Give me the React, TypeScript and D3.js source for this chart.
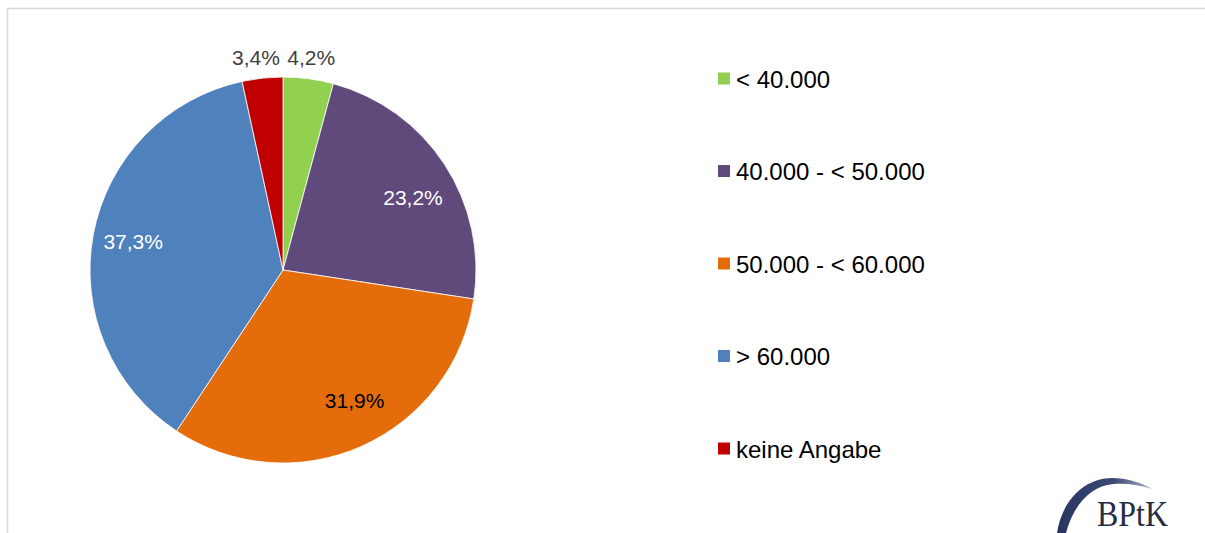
import React from "react";
import * as d3 from "d3";

const categories = ["< 40.000", "40.000 - < 50.000", "50.000 - < 60.000", "> 60.000", "keine Angabe"];
const values = [4.2, 23.2, 31.9, 37.3, 3.4];
const valueLabels = ["4,2%", "23,2%", "31,9%", "37,3%", "3,4%"];
const colors = ["#92D050", "#604A7B", "#E46C0A", "#4F81BD", "#C00000"];
const labelColors = ["#404040", "#FFFFFF", "#000000", "#FFFFFF", "#404040"];
const labelRadiusFactor = [1.11, 0.77, 0.77, 0.79, 1.11];
const labelAngleShift = [0, 0.072, -0.085, 0, -0.02];

export default function App() {
  const W = 1205, H = 533;
  const cx = 283, cy = 270, r = 193;
  const pie = d3.pie<number>().sort(null).value((d) => d);
  const arcs = pie(values);
  const arcGen = d3.arc<d3.PieArcDatum<number>>().innerRadius(0).outerRadius(r);
  const legendY = d3.scalePoint<string>().domain(categories).range([79, 449]);
  const font = "'Liberation Sans', Arial, sans-serif";

  return (
    <svg width={W} height={H} style={{ position: "absolute", left: 0, top: 0 }} fontFamily={font}>
      <defs>
        <linearGradient id="logoArc" x1="0" y1="0" x2="1" y2="0">
          <stop offset="0" stopColor="#27355F" />
          <stop offset="0.6" stopColor="#3C4A75" />
          <stop offset="1" stopColor="#A6ADC2" />
        </linearGradient>
      </defs>
      <rect x={0} y={0} width={W} height={H} fill="#fff" />
      <rect x={7.5} y={8.5} width={W + 10} height={H + 10} fill="none" stroke="#d9d9d9" strokeWidth={1.5} />
      <g transform={`translate(${cx},${cy})`}>
        {arcs.map((a, i) => (
          <path key={i} d={arcGen(a) || ""} fill={colors[i]} stroke="#fff" strokeWidth={0.8} />
        ))}
        {arcs.map((a, i) => {
          const mid = (a.startAngle + a.endAngle) / 2 + labelAngleShift[i];
          const d = r * labelRadiusFactor[i];
          const x = Math.sin(mid) * d;
          const y = -Math.cos(mid) * d;
          return (
            <text key={i} x={x} y={y} dy="0.35em" textAnchor="middle" fontSize={21} fill={labelColors[i]}>
              {valueLabels[i]}
            </text>
          );
        })}
      </g>
      <g>
        {categories.map((c, i) => {
          const y = legendY(c) as number;
          return (
            <g key={c}>
              <rect x={718} y={y - 6.5} width={12} height={12} fill={colors[i]} />
              <text x={736} y={y} dy="0.36em" fontSize={24} fill="#000">
                {c}
              </text>
            </g>
          );
        })}
      </g>
      <g>
        <path
          d="M1057,533 C1062,500 1085,478 1112,478 C1127,478 1140,482 1152,489 C1140,485 1127,483 1113,484 C1090,486 1073,506 1066,533 Z"
          fill="url(#logoArc)"
        />
        <text x={1097} y={526} fontFamily="'Liberation Serif', 'Times New Roman', serif" fontSize={35} fill="#272C45" textLength={71} lengthAdjust="spacingAndGlyphs">
          BPtK
        </text>
      </g>
    </svg>
  );
}
